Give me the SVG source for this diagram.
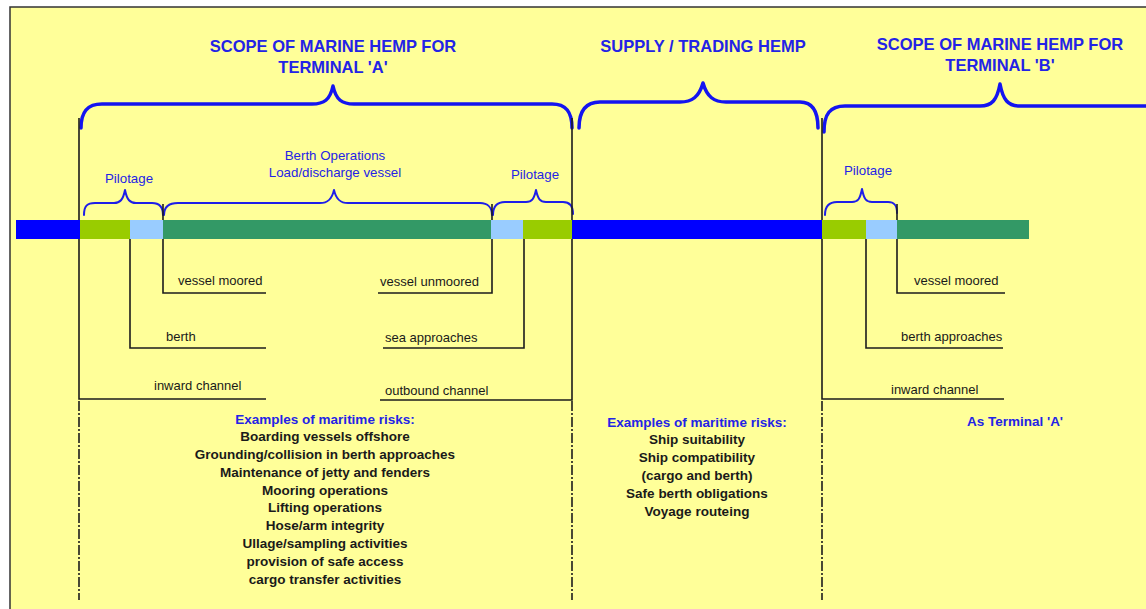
<svg xmlns="http://www.w3.org/2000/svg" width="1146" height="609" viewBox="0 0 1146 609">
<style>
.title{font-family:"Liberation Sans",Arial,sans-serif;font-weight:bold;font-size:16.5px;fill:#2323E6;text-anchor:middle}
.blab{font-family:"Liberation Sans",Arial,sans-serif;font-size:13.3px;fill:#2323E6;text-anchor:middle}
.lab{font-family:"Liberation Sans",Arial,sans-serif;font-size:13px;fill:#1a1a1a}
.risk{font-family:"Liberation Sans",Arial,sans-serif;font-weight:bold;font-size:13.5px;fill:#1a1a1a;text-anchor:middle}
.riskh{font-family:"Liberation Sans",Arial,sans-serif;font-weight:bold;font-size:13.5px;fill:#2323E6;text-anchor:middle}
.bigbrace{fill:none;stroke:#1414F0;stroke-width:3.5;stroke-linecap:round;stroke-linejoin:round}
.brace{fill:none;stroke:#1E1EE8;stroke-width:2;stroke-linecap:round;stroke-linejoin:round}
.ln{fill:none;stroke:#1c1c1c;stroke-width:1.6}
.dd{fill:none;stroke:#1c1c1c;stroke-width:1.6;stroke-dasharray:10 2 2 2}
</style>
<rect x="0" y="0" width="1146" height="609" fill="#ffffff"/>
<rect x="10" y="7" width="1150" height="620" fill="#FFFF99" stroke="#333333" stroke-width="1.5"/>

<g id="titles">
<text class="title" x="333" y="52">SCOPE OF MARINE HEMP FOR</text>
<text class="title" x="333" y="73">TERMINAL 'A'</text>
<text class="title" x="703" y="52">SUPPLY / TRADING HEMP</text>
<text class="title" x="1000" y="50">SCOPE OF MARINE HEMP FOR</text>
<text class="title" x="1000" y="71">TERMINAL 'B'</text>
</g>

<g id="braces">
<path class="bigbrace" d="M81,128 C81,112 87,104 102,104 L312,104 C324,104 330,100 333,86 C336,100 342,104 354,104 L552,104 C566,104 572,112 572,128"/>
<path class="bigbrace" d="M579,128 C579,112 585,102 600,102 L680,102 C692,102 699,97 703,83 C707,97 714,102 726,102 L800,102 C812,102 818,110 818,128"/>
<path class="bigbrace" d="M824,132 C824,114 830,106 845,106 L980,106 C992,106 997,100 1000,84 C1003,100 1008,106 1020,106 L1160,106"/>
<path class="brace" d="M84,215 C84,206 87,203 95,203 L114,203 C120,203 123,200 125,190 C127,200 130,203 136,203 L152,203 C160,203 163,208 163,215"/>
<path class="brace" d="M164,215 C164,207 168,203 178,203 L320,203 C328,203 332,199 334,190 C336,199 340,203 348,203 L480,203 C488,203 492,208 492,215"/>
<path class="brace" d="M493,215 C493,207 497,202 505,202 L526,202 C532,202 534,199 536,190 C538,199 540,202 546,202 L563,202 C570,202 573,207 573,214"/>
<path class="brace" d="M825,215 C825,206 829,202 837,202 L852,202 C858,202 860,199 862,189 C864,199 866,202 872,202 L888,202 C895,202 897,206 897,213"/>
</g>

<g id="labels-top">
<text class="blab" x="129" y="183">Pilotage</text>
<text class="blab" x="335" y="160">Berth Operations</text>
<text class="blab" x="335" y="177">Load/discharge vessel</text>
<text class="blab" x="535" y="179">Pilotage</text>
<text class="blab" x="868" y="175">Pilotage</text>
</g>

<g id="connectors">
<path class="ln" d="M79,118 V399 H266"/>
<path class="ln" d="M572,118 V400 H380"/>
<path class="ln" d="M822,118 V399 H1004"/>
<path class="dd" d="M79,401 V600"/>
<path class="dd" d="M572,401 V600"/>
<path class="dd" d="M822,401 V600"/>
<path class="ln" d="M163,204 V293 H266"/>
<path class="ln" d="M130,239 V348 H266"/>
<path class="ln" d="M492,204 V293 H378"/>
<path class="ln" d="M524,239 V348 H383"/>
<path class="ln" d="M897,204 V293 H1005"/>
<path class="ln" d="M866,239 V348 H1003"/>
</g>

<g id="bar">
<rect x="16" y="220" width="64" height="19" fill="#0000FF"/>
<rect x="80" y="220" width="50" height="19" fill="#99CC00"/>
<rect x="130" y="220" width="33" height="19" fill="#99CCFF"/>
<rect x="163" y="220" width="328" height="19" fill="#339966"/>
<rect x="491" y="220" width="32" height="19" fill="#99CCFF"/>
<rect x="523" y="220" width="49" height="19" fill="#99CC00"/>
<rect x="572" y="220" width="250" height="19" fill="#0000FF"/>
<rect x="822" y="220" width="44" height="19" fill="#99CC00"/>
<rect x="866" y="220" width="31" height="19" fill="#99CCFF"/>
<rect x="897" y="220" width="132" height="19" fill="#339966"/>
</g>

<g id="labels-lines">
<text class="lab" x="178" y="285">vessel moored</text>
<text class="lab" x="166" y="341">berth</text>
<text class="lab" x="154" y="390">inward channel</text>
<text class="lab" x="380" y="286">vessel unmoored</text>
<text class="lab" x="385" y="342">sea approaches</text>
<text class="lab" x="385" y="395">outbound channel</text>
<text class="lab" x="914" y="285">vessel moored</text>
<text class="lab" x="901" y="341">berth approaches</text>
<text class="lab" x="891" y="394">inward channel</text>
</g>

<g id="risks-a">
<text class="riskh" x="325" y="424">Examples of maritime risks:</text>
<text class="risk" x="325" y="441">Boarding vessels offshore</text>
<text class="risk" x="325" y="459">Grounding/collision in berth approaches</text>
<text class="risk" x="325" y="477">Maintenance of jetty and fenders</text>
<text class="risk" x="325" y="495">Mooring operations</text>
<text class="risk" x="325" y="512">Lifting operations</text>
<text class="risk" x="325" y="530">Hose/arm integrity</text>
<text class="risk" x="325" y="548">Ullage/sampling activities</text>
<text class="risk" x="325" y="566">provision of safe access</text>
<text class="risk" x="325" y="584">cargo transfer activities</text>
</g>

<g id="risks-supply">
<text class="riskh" x="697" y="427">Examples of maritime risks:</text>
<text class="risk" x="697" y="444">Ship suitability</text>
<text class="risk" x="697" y="462">Ship compatibility</text>
<text class="risk" x="697" y="480">(cargo and berth)</text>
<text class="risk" x="697" y="498">Safe berth obligations</text>
<text class="risk" x="697" y="516">Voyage routeing</text>
</g>

<g id="risks-b">
<text class="riskh" x="1015" y="426">As Terminal 'A'</text>
</g>
</svg>
